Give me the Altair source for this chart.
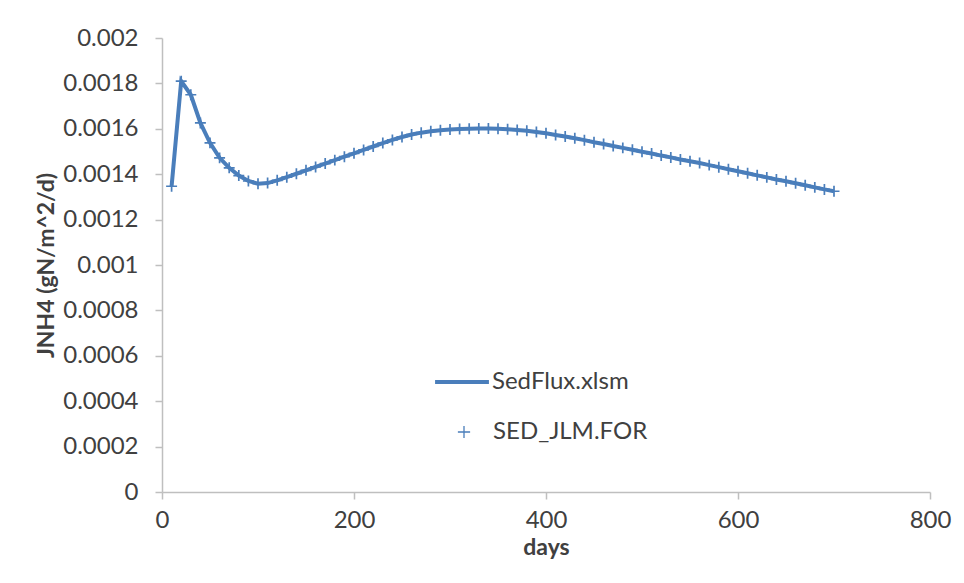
import altair as alt
import pandas as pd

days = list(range(10, 701, 10))

sedflux = [
    0.001347, 0.001810, 0.001750, 0.001626, 0.001538, 0.001472, 0.001428, 0.001394, 0.001370, 0.001358,
    0.001361, 0.001373, 0.001387, 0.001402, 0.001417, 0.001432, 0.001447, 0.001462, 0.001477, 0.001492,
    0.001507, 0.001522, 0.001537, 0.001551, 0.001564, 0.001575, 0.001583, 0.001589, 0.001594, 0.001597,
    0.001599, 0.001600, 0.001601, 0.001601, 0.001600, 0.001598, 0.001595, 0.001591, 0.001586, 0.001580,
    0.001573, 0.001566, 0.001558, 0.001550, 0.001541, 0.001533, 0.001524, 0.001516, 0.001508, 0.001499,
    0.001491, 0.001482, 0.001474, 0.001465, 0.001457, 0.001449, 0.001440, 0.001431, 0.001422, 0.001413,
    0.001404, 0.001395, 0.001386, 0.001377, 0.001369, 0.001360, 0.001351, 0.001342, 0.001333, 0.001325,
]

sed_jlm = [
    0.001347, 0.001810, 0.001750, 0.001626, 0.001538, 0.001472, 0.001428, 0.001394, 0.001370, 0.001358,
    0.001361, 0.001373, 0.001387, 0.001402, 0.001417, 0.001432, 0.001447, 0.001462, 0.001477, 0.001492,
    0.001507, 0.001522, 0.001537, 0.001551, 0.001564, 0.001575, 0.001583, 0.001589, 0.001594, 0.001597,
    0.001599, 0.001600, 0.001601, 0.001601, 0.001600, 0.001598, 0.001595, 0.001591, 0.001586, 0.001580,
    0.001573, 0.001566, 0.001558, 0.001550, 0.001541, 0.001533, 0.001524, 0.001516, 0.001508, 0.001499,
    0.001491, 0.001482, 0.001474, 0.001465, 0.001457, 0.001449, 0.001440, 0.001431, 0.001422, 0.001413,
    0.001404, 0.001395, 0.001386, 0.001377, 0.001369, 0.001360, 0.001351, 0.001342, 0.001333, 0.001325,
]

x_ticks = [0, 200, 400, 600, 800]
y_ticks = [0, 0.0002, 0.0004, 0.0006, 0.0008, 0.001, 0.0012, 0.0014, 0.0016, 0.0018, 0.002]
series_names = ["SedFlux.xlsm", "SED_JLM.FOR"]

BLUE = "#4A7EBB"
TEXT = "#404040"
AXIS = "#BFBFBF"
FONT = "Lato"
PLUS = "M-1,0H1M0,-1V1"

line_df = pd.DataFrame({"days": days, "value": sedflux, "series": series_names[0]})
pt_df = pd.DataFrame({"days": days, "value": sed_jlm, "series": series_names[1]})

x_enc = alt.X(
    "days:Q",
    scale=alt.Scale(domain=[0, 800], nice=False, zero=False),
    axis=alt.Axis(title="days", values=x_ticks, format="d", labelFlush=False),
)
y_enc = alt.Y(
    "value:Q",
    scale=alt.Scale(domain=[0, 0.002], nice=False),
    axis=alt.Axis(title="JNH4 (gN/m^2/d)", values=y_ticks, format="~g", labelFlush=False),
)

line = alt.Chart(line_df).mark_line(strokeWidth=4, color=BLUE).encode(
    x=x_enc,
    y=y_enc,
    color=alt.Color(
        "series:N",
        scale=alt.Scale(domain=[series_names[0]], range=[BLUE]),
        legend=alt.Legend(
            title=None, orient="none", legendX=271, legendY=315,
            symbolType="stroke", symbolStrokeWidth=4, symbolSize=2900,
            labelOffset=1, padding=0,
        ),
    ),
)

points = alt.Chart(pt_df).mark_point(
    filled=False, color=BLUE, strokeWidth=1.7, size=120, opacity=1
).encode(
    x=x_enc,
    y=y_enc,
    shape=alt.Shape(
        "series:N",
        scale=alt.Scale(domain=[series_names[1]], range=[PLUS]),
        legend=alt.Legend(
            title=None, orient="none", legendX=290, legendY=382,
            symbolStrokeColor=BLUE, symbolStrokeWidth=1.3, symbolSize=150,
            symbolFillColor="transparent", labelOffset=17, padding=0,
        ),
    ),
)

chart = (
    alt.layer(line, points)
    .properties(
        width=768,
        height=454,
        autosize=alt.AutoSizeParams(type="none"),
        padding={"left": 154, "top": 30, "right": 26, "bottom": 83},
        background="white",
    )
    .configure_view(stroke=None)
    .configure_axis(
        grid=False,
        domainColor=AXIS,
        domainWidth=1.5,
        tickColor=AXIS,
        tickWidth=1.5,
        tickSize=7,
        labelFont=FONT,
        labelFontSize=24,
        labelColor=TEXT,
        titleFont=FONT,
        titleFontSize=23,
        titleFontWeight="bold",
        titleColor=TEXT,
    )
    .configure_axisY(labelPadding=17, titlePadding=4)
    .configure_axisX(labelPadding=9, titlePadding=4)
    .configure_legend(
        labelFont=FONT,
        labelFontSize=24,
        labelColor=TEXT,
    )
)

chart.save("out.html", embed_options={"renderer": "svg", "actions": False})
